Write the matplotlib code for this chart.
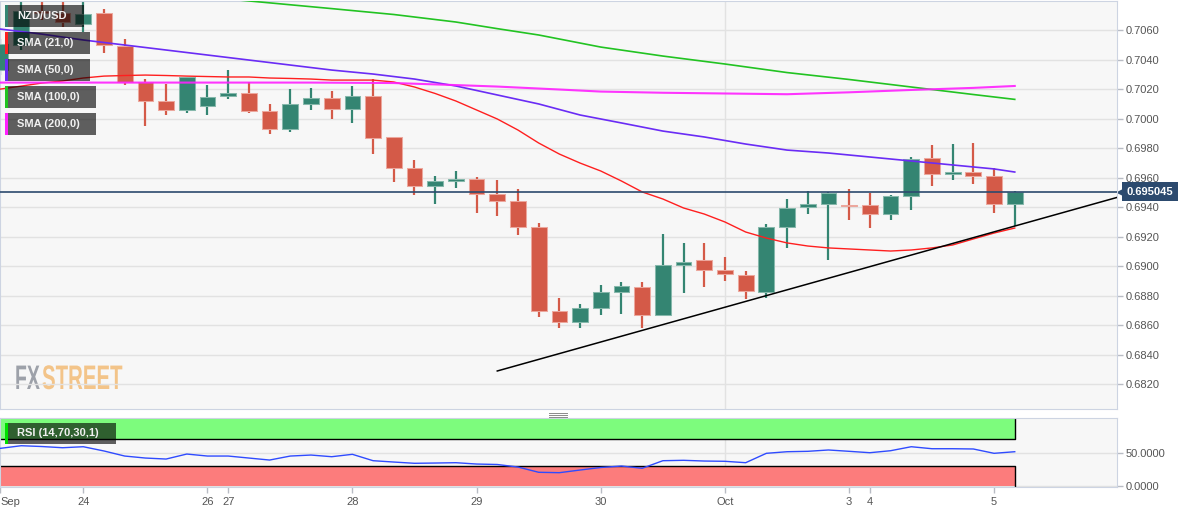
import numpy as np
import matplotlib.pyplot as plt
from matplotlib import patheffects
from matplotlib.patches import Rectangle
from matplotlib.lines import Line2D
from matplotlib.transforms import Affine2D, blended_transform_factory

plt.rcParams['font.family'] = ['Liberation Sans', 'DejaVu Sans']

# NZD/USD 4h candles
opens = [0.70330, 0.70504, 0.70731, 0.70718, 0.70643, 0.70718, 0.70494, 0.70250, 0.70121, 0.70060,
         0.70087, 0.70155, 0.70175, 0.70053, 0.69931, 0.70101, 0.70141, 0.70067, 0.70155, 0.69877,
         0.69666, 0.69544, 0.69578, 0.69592, 0.69490, 0.69442, 0.69266, 0.68696, 0.68621, 0.68716,
         0.68825, 0.68859, 0.68669, 0.69008, 0.69043, 0.68975, 0.68941, 0.68825, 0.69266, 0.69401,
         0.69421, 0.69414, 0.69414, 0.69353, 0.69476, 0.69734, 0.69626, 0.69640, 0.69612, 0.69421]
highs = [0.70540, 0.70820, 0.70820, 0.70810, 0.70810, 0.70745, 0.70541, 0.70270, 0.70236, 0.70284,
         0.70229, 0.70331, 0.70250, 0.70101, 0.70202, 0.70209, 0.70189, 0.70223, 0.70270, 0.69880,
         0.69720, 0.69612, 0.69646, 0.69605, 0.69585, 0.69524, 0.69293, 0.68784, 0.68743, 0.68873,
         0.68893, 0.68893, 0.69219, 0.69158, 0.69158, 0.69063, 0.68968, 0.69287, 0.69455, 0.69509,
         0.69503, 0.69524, 0.69496, 0.69483, 0.69741, 0.69822, 0.69829, 0.69836, 0.69666, 0.69511]
lows = [0.70300, 0.70467, 0.70670, 0.70623, 0.70589, 0.70447, 0.70229, 0.69951, 0.70026, 0.70039,
        0.70026, 0.70134, 0.70039, 0.69897, 0.69910, 0.70060, 0.69998, 0.69971, 0.69761, 0.69571,
        0.69483, 0.69421, 0.69531, 0.69361, 0.69341, 0.69212, 0.68656, 0.68581, 0.68581, 0.68669,
        0.68676, 0.68581, 0.68662, 0.68818, 0.68859, 0.68900, 0.68778, 0.68786, 0.69123, 0.69353,
        0.69042, 0.69313, 0.69259, 0.69313, 0.69381, 0.69544, 0.69585, 0.69558, 0.69361, 0.69273]
closes = [0.70511, 0.70731, 0.70718, 0.70657, 0.70711, 0.70501, 0.70250, 0.70121, 0.70060, 0.70284,
          0.70148, 0.70175, 0.70053, 0.69931, 0.70101, 0.70141, 0.70067, 0.70155, 0.69870, 0.69666,
          0.69544, 0.69578, 0.69592, 0.69490, 0.69442, 0.69266, 0.68696, 0.68621, 0.68716, 0.68825,
          0.68866, 0.68669, 0.69008, 0.69029, 0.68975, 0.68948, 0.68832, 0.69266, 0.69394, 0.69421,
          0.69496, 0.69408, 0.69353, 0.69476, 0.69727, 0.69626, 0.69640, 0.69612, 0.69421, 0.695045]
last_price = 0.695045

sma21 = [0.70202, 0.70222, 0.70243, 0.70257, 0.70277, 0.70290, 0.70294, 0.70297, 0.70294, 0.70290,
         0.70287, 0.70284, 0.70284, 0.70277, 0.70274, 0.70270, 0.70263, 0.70263, 0.70263, 0.70250,
         0.70216, 0.70172, 0.70121, 0.70060, 0.69999, 0.69924, 0.69836, 0.69761, 0.69700, 0.69646,
         0.69578, 0.69504, 0.69456, 0.69395, 0.69354, 0.69300, 0.69232, 0.69191, 0.69158, 0.69137,
         0.69124, 0.69117, 0.69110, 0.69103, 0.69110, 0.69124, 0.69144, 0.69185, 0.69225, 0.69259]
sma50_x = [0, 2, 4, 6, 8, 10, 12, 14, 16, 18, 20, 22, 24, 26, 28, 30, 32, 34, 36, 38, 40, 42, 44, 46, 48, 49]
sma50 = [0.70609, 0.70575, 0.70535, 0.70501, 0.70467, 0.70433, 0.70399, 0.70365, 0.70331, 0.70304,
         0.70270, 0.70223, 0.70162, 0.70101, 0.70026, 0.69972, 0.69917, 0.69877, 0.69829, 0.69788,
         0.69768, 0.69741, 0.69714, 0.69687, 0.69660, 0.69639]
sma100_x = [11, 14, 16, 19, 22, 24, 26, 29, 32, 35, 38, 41, 44, 47, 49]
sma100 = [0.70813, 0.70774, 0.70748, 0.70708, 0.70657, 0.70612, 0.70569, 0.70487, 0.70426, 0.70372,
          0.70314, 0.70267, 0.70216, 0.70165, 0.70132]
sma200_x = [0, 5, 10, 15, 19, 22, 24, 27, 29, 32, 35, 38, 41, 44, 47, 49]
sma200 = [0.70246, 0.70246, 0.70246, 0.70246, 0.70243, 0.70229, 0.70219, 0.70199, 0.70185, 0.70177,
          0.70172, 0.70167, 0.70180, 0.70196, 0.70210, 0.70223]

trend_x = [24, 54]
trend_y = [0.68289, 0.69469]

rsi = [56.6, 60.5, 59.3, 57.5, 59.0, 52.6, 45.0, 42.0, 40.5, 48.0,
       45.0, 45.0, 42.0, 39.0, 45.0, 46.5, 44.0, 47.6, 38.0, 36.0,
       34.1, 34.5, 35.0, 33.0, 32.3, 28.5, 20.6, 20.0, 24.0, 27.8,
       30.0, 26.6, 38.0, 38.6, 37.5, 37.1, 35.0, 49.1, 51.5, 52.1,
       54.1, 52.1, 50.0, 53.0, 59.0, 56.0, 56.0, 55.6, 49.1, 51.5]
rsi_upper = 70
rsi_lower = 30

date_pos = [0, 4, 10, 11, 17, 23, 29, 35, 41, 42, 48]
date_lbl = ['Sep', '24', '26', '27', '28', '29', '30', 'Oct', '3', '4', '5']
price_ticks = [0.6820, 0.6840, 0.6860, 0.6880, 0.6900, 0.6920, 0.6940,
               0.6960, 0.6980, 0.7000, 0.7020, 0.7040, 0.7060]
legend_lbl = ['NZD/USD', 'SMA (21,0)', 'SMA (50,0)', 'SMA (100,0)', 'SMA (200,0)']

GREEN = '#348572'
RED = '#d45a48'
NAVY = '#2c4a6e'
SPINE = '#cdd4e2'
GRID = '#e2e2e2'
TXT = '#555555'
C21, C50, C100, C200 = '#ff1f1f', '#6a2cf5', '#22c322', '#ff20ff'

W, H = 1194, 513


def fx(px):
    return px / W


def fy(py):
    return 1 - py / H


class Stretch(patheffects.AbstractPathEffect):
    # scales glyphs around the text origin (used for the tall, narrow logo letters)
    def __init__(self, sx, sy):
        super().__init__()
        self.sx = sx
        self.sy = sy

    def draw_path(self, renderer, gc, tpath, affine, rgbFace=None):
        m = affine.get_matrix()
        x0, y0 = m[0, 2], m[1, 2]
        st = Affine2D().translate(-x0, -y0).scale(self.sx, self.sy).translate(x0, y0)
        renderer.draw_path(gc, tpath, affine + st, rgbFace)


fig = plt.figure(figsize=(W / 100, H / 100), dpi=100)
fig.patch.set_facecolor('white')

xlim = (-0.024, 53.94)

# main price panel
ax = fig.add_axes([0, fy(409), fx(1117), (409 - 0.5) / H])
ax.set_facecolor('#f7f7f7')
ax.set_xlim(*xlim)
ax.set_ylim(0.68031, 0.70803)
ax.set_axisbelow(True)
ax.grid(axis='y', color=GRID, lw=1)
ax.axvline(35, color=GRID, lw=1, zorder=0.5)
for s in ax.spines.values():
    s.set_color(SPINE)
ax.yaxis.tick_right()
ax.set_yticks(price_ticks)
ax.set_yticklabels([f'{v:.4f}' for v in price_ticks])
ax.tick_params(axis='y', length=4, width=1, color='#b8bcc4', labelsize=8, labelcolor=TXT, pad=2.5)
ax.tick_params(axis='x', bottom=False, labelbottom=False)

x = np.arange(len(opens))
o = np.array(opens)
c = np.array(closes)
up = c >= o
cols = np.where(up, GREEN, RED)
edges = np.where(up, '#86b8ab', '#eca79d')
ax.vlines(x, lows, highs, colors=cols, lw=1.6, zorder=2)
ax.bar(x, np.maximum(np.abs(c - o), 0.00005), bottom=np.minimum(o, c), width=0.76,
       color=cols, edgecolor=edges, lw=0.75, zorder=3)

ax.plot(x, sma21, color=C21, lw=1, zorder=4)
ax.plot(sma50_x, sma50, color=C50, lw=1.2, zorder=4)
ax.plot(sma100_x, sma100, color=C100, lw=1.2, zorder=4)
ax.plot(sma200_x, sma200, color=C200, lw=1.5, alpha=0.9, zorder=4)
ax.plot(trend_x, trend_y, color='black', lw=1.1, zorder=5)
ax.axhline(last_price, color=NAVY, lw=1.2, zorder=5)

bt = blended_transform_factory(ax.transAxes, ax.transData)
ax.text(1.0085, last_price, f'{last_price:.6f}', transform=bt, ha='left', va='center',
        fontsize=8, fontweight='bold', color='white', clip_on=False,
        bbox=dict(boxstyle='square,pad=0.4', fc=NAVY, ec='none'))
ax.plot([1.0035], [last_price], marker='<', ms=6, color=NAVY, transform=bt, clip_on=False)

# FXSTREET watermark
ax.text(15 / 1117, 0.049, 'FX', transform=ax.transAxes, fontsize=14, fontweight='bold',
        color='#9da1a9', zorder=0.3, path_effects=[Stretch(1.0, 1.75)])
ax.text(42 / 1117, 0.049, 'STREET', transform=ax.transAxes, fontsize=14, fontweight='bold',
        color='#f3c489', zorder=0.3, path_effects=[Stretch(1.05, 1.75)])

# RSI panel
rax = fig.add_axes([0, fy(487.3), fx(1117), (487.3 - 418.3) / H])
rax.set_facecolor('#f7f7f7')
rax.set_xlim(*xlim)
rax.set_ylim(-1.95, 101.7)
rax.set_axisbelow(True)
rax.grid(axis='y', color=GRID, lw=1)
rax.axvline(35, color=GRID, lw=1, zorder=0.5)
for s in rax.spines.values():
    s.set_color(SPINE)
rax.fill_between([xlim[0], 49], rsi_upper, 100, color='#7dfc7d', lw=0, zorder=1)
rax.fill_between([xlim[0], 49], 0, rsi_lower, color='#fc7c7c', lw=0, zorder=1)
rax.plot([xlim[0], 49, 49], [rsi_upper, rsi_upper, 100], color='black', lw=1, zorder=2)
rax.plot([xlim[0], 49, 49], [rsi_lower, rsi_lower, 0], color='black', lw=1, zorder=2)
rax.plot(x, rsi, color='#2f4bff', lw=1, zorder=3)

rax.yaxis.tick_right()
rax.set_yticks([0, 50])
rax.set_yticklabels(['0.0000', '50.0000'])
rax.tick_params(axis='y', length=4, width=1, color='#b8bcc4', labelsize=8, labelcolor=TXT, pad=2.5)
rax.set_xticks(date_pos)
rax.set_xticklabels(date_lbl)
rax.tick_params(axis='x', length=4, width=1, color='#b8bcc4', labelsize=8, labelcolor=TXT, pad=3)
rax.get_xticklabels()[0].set_ha('left')

# legend boxes (top-left)
box_right = [84, 90, 90, 96, 96]
box_top = [5, 32, 59, 86, 113]
strip_cols = [GREEN, C21, C50, C100, C200]
for lbl, r, t, sc in zip(legend_lbl, box_right, box_top, strip_cols):
    fig.add_artist(Rectangle((fx(5), fy(t + 22)), fx(r - 5), 22 / H, transform=fig.transFigure,
                             fc='black', alpha=0.62, ec='none', zorder=10))
    fig.add_artist(Rectangle((fx(5), fy(t + 22)), fx(2.5), 22 / H, transform=fig.transFigure,
                             fc=sc, ec='none', zorder=11))
    fig.text(fx(17), fy(t + 11), lbl, ha='left', va='center', fontsize=8, fontweight='bold',
             color='#f0f0f0', zorder=12)

fig.add_artist(Rectangle((fx(4.6), fy(444.3)), fx(111), 21.6 / H, transform=fig.transFigure,
                         fc='black', alpha=0.62, ec='none', zorder=10))
fig.add_artist(Rectangle((fx(4.6), fy(444.3)), fx(3), 21.6 / H, transform=fig.transFigure,
                         fc='#00e000', ec='none', zorder=11))
fig.text(fx(17), fy(433.5), 'RSI (14,70,30,1)', ha='left', va='center', fontsize=8,
         fontweight='bold', color='#f0f0f0', zorder=12)

# panel resize handle
for yy in (412.5, 414.5, 416.5):
    fig.add_artist(Line2D([fx(549), fx(567)], [fy(yy), fy(yy)], color='#8a8a8a', lw=0.7))

fig.savefig('out.png', dpi=100)
